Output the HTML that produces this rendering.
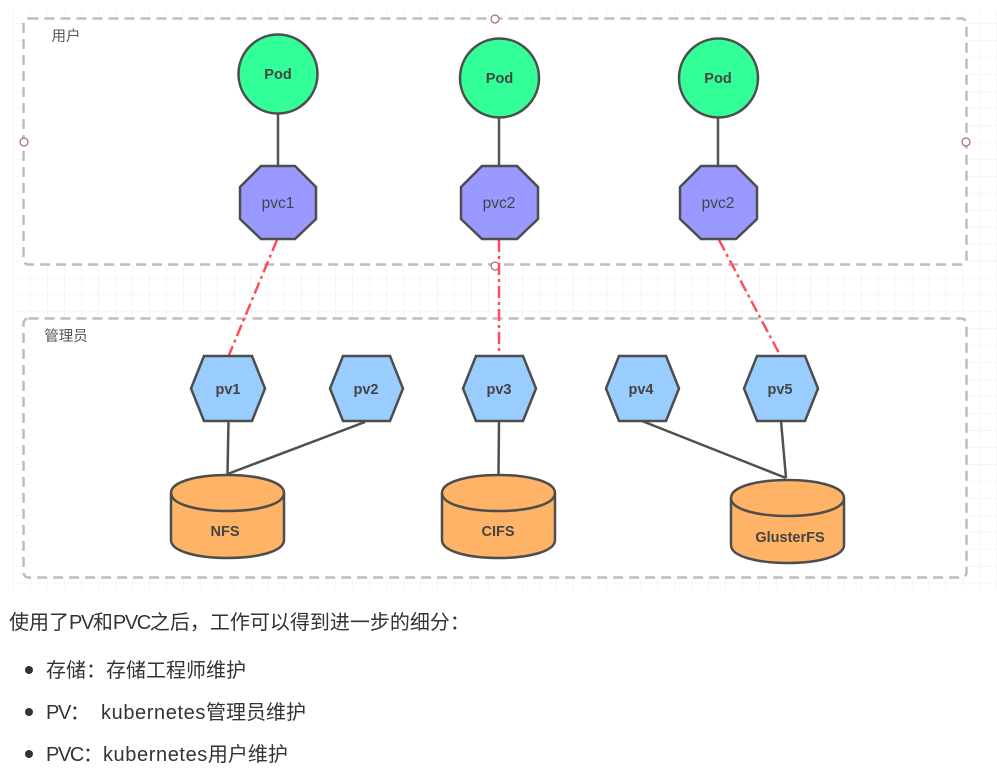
<!DOCTYPE html>
<html><head><meta charset="utf-8"><style>
html,body{margin:0;padding:0;background:#fff;width:997px;height:775px;overflow:hidden}
body{position:relative;font-family:"Liberation Sans","Noto Sans CJK SC",sans-serif}
svg{position:absolute;left:0;top:0;filter:blur(.3px)}
.t{position:absolute;font-size:20px;line-height:28px;color:#333;white-space:pre}
.c{letter-spacing:-1.4px}
.k{letter-spacing:.6px}
.d{position:absolute;left:25px;width:8px;height:8px;border-radius:50%;background:#333}
</style></head><body>
<svg width="997" height="775" viewBox="0 0 997 775">
<defs>
<pattern id="g" width="16.95" height="16.95" patternUnits="userSpaceOnUse" x="13.5" y="6.5"><path d="M0 0V16.95M0 0H16.95" fill="none" stroke="#ececec" stroke-width="1"/></pattern>
</defs>
<rect x="13" y="10" width="984" height="580" fill="url(#g)"/>
<g fill="#fff" stroke="#bdbdbd" stroke-width="2.5" stroke-dasharray="10 6">
<rect x="23.5" y="18.5" width="943" height="246" rx="5"/>
<rect x="23.5" y="318.5" width="943" height="259" rx="5"/>
</g>
<g fill="#fff" stroke="#a86a6a" stroke-width="1.2">
<circle cx="495" cy="19" r="4"/><circle cx="24" cy="142" r="4"/><circle cx="966" cy="142" r="4"/><circle cx="495" cy="266" r="4"/>
</g>
<g stroke="#555" stroke-width="2.5" fill="none">
<path d="M278 113V166M499 117V166M718 117V166"/>
</g>
<g stroke="#ff4d5a" stroke-width="2.5" fill="none" stroke-dasharray="12 4 3 4">
<path d="M277 240L229 355M499 240V355M719 240L780 355"/>
</g>
<g stroke="#505050" stroke-width="2.5" fill="none">
<path d="M228.500 421L227.500 474M365 422L227.500 474M499 421L498.500 474M642 421L786 478M781 421L786 478"/>
</g>
<g fill="#33ff99" stroke="#4d4d4d" stroke-width="2.500">
<circle cx="278" cy="74" r="39.500"/><circle cx="499.500" cy="78" r="39.500"/><circle cx="718.500" cy="78" r="39.500"/>
</g>
<g fill="#9999ff" stroke="#4d4d4d" stroke-width="2.500">
<path d="M261 166H295L316 187V219L295 239H261L240 219V187Z"/>
<path d="M482 166H517L538 187V219L517 239H482L461 219V187Z"/>
<path d="M701 166H736L757 187V219L736 239H701L680 219V187Z"/>
</g>
<g fill="#99ccff" stroke="#4d4d4d" stroke-width="2.500">
<path d="M204 356H252L265 388.500L252 421H204L191 388.500Z"/>
<path d="M343 356H390L403 388.500L390 421H343L330 388.500Z"/>
<path d="M476 356H523L536 388.500L523 421H476L463 388.500Z"/>
<path d="M619 356H666L679 388.500L666 421H619L606 388.500Z"/>
<path d="M757 356H805L818 388.500L805 421H757L744 388.500Z"/>
</g>
<g fill="#ffb366" stroke="#4d4d4d" stroke-width="2.500">
<path d="M171 493C171 469 284 469 284 493V540C284 564 171 564 171 540Z"/><path d="M171 493C171 517 284 517 284 493" fill="none"/>
<path d="M442 493C442 469 555 469 555 493V540C555 564 442 564 442 540Z"/><path d="M442 493C442 517 555 517 555 493" fill="none"/>
<path d="M731 498C731 474 844 474 844 498V545C844 569 731 569 731 545Z"/><path d="M731 498C731 522 844 522 844 498" fill="none"/>
</g>
<g font-family="Liberation Sans, Noto Sans CJK SC, sans-serif" font-size="14.500" fill="#444" text-anchor="middle">
<g font-weight="bold">
<text x="278" y="79">Pod</text><text x="499.500" y="83">Pod</text><text x="718" y="83">Pod</text>
<text x="228" y="394">pv1</text><text x="366" y="394">pv2</text><text x="499" y="394">pv3</text><text x="641" y="394">pv4</text><text x="780" y="394">pv5</text>
<text x="225" y="536">NFS</text><text x="498" y="536">CIFS</text><text x="790" y="542">GlusterFS</text>
</g>
<g font-size="15.500"><text x="278" y="208">pvc1</text><text x="499" y="208">pvc2</text><text x="718" y="208">pvc2</text></g>
<g font-size="14.500" fill="#555"><text x="66" y="41">用户</text><text x="66" y="341">管理员</text></g>
</g>
</svg>
<div class="t" style="left:9px;top:609px">使用了<span class="c">PV</span>和<span class="c">PVC</span>之后，工作可以得到进一步的细分：</div>
<div class="d" style="top:666px"></div><div class="t" style="left:46px;top:657px">存储：存储工程师维护</div>
<div class="d" style="top:708px"></div><div class="t" style="left:46px;top:699px"><span class="c">PV</span>：  <span class="k">kubernetes</span>管理员维护</div>
<div class="d" style="top:750px"></div><div class="t" style="left:46px;top:741px"><span class="c">PVC</span>：<span class="k">kubernetes</span>用户维护</div>
</body></html>
